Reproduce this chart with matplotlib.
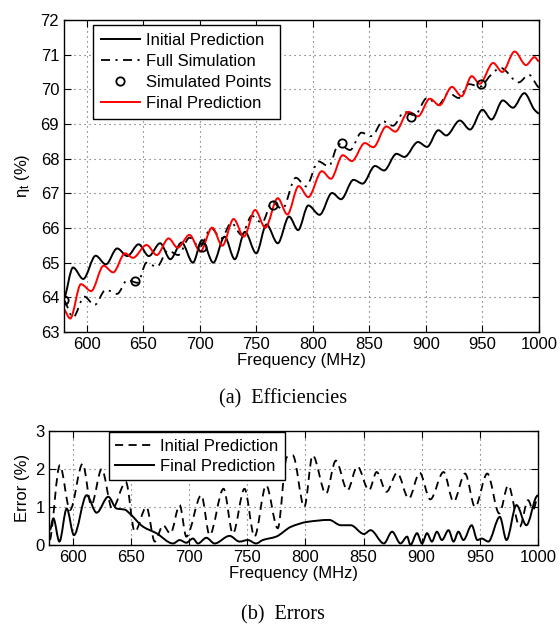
import numpy as np
import matplotlib
matplotlib.use('Agg')
import matplotlib.pyplot as plt
from matplotlib.path import Path
from matplotlib.patches import PathPatch
from matplotlib.lines import Line2D

plt.rcParams['font.family'] = ['Liberation Sans', 'DejaVu Sans']
plt.rcParams['mathtext.fontset'] = 'custom'
plt.rcParams['mathtext.rm'] = 'Liberation Sans'
plt.rcParams['mathtext.it'] = 'Liberation Sans'

# Efficiency curves: turning points (MHz, %)
initF = [580, 588, 597, 608, 617, 627, 636, 646, 655, 665, 674, 684, 694,
         702, 712, 722, 731, 740, 750, 759, 769, 779, 787, 796, 806, 817,
         825, 836, 844, 855, 863, 874, 881, 893, 901, 911, 918, 930, 939,
         950, 958, 968, 977, 987, 996, 1000]
initEff = [63.95, 64.86, 64.53, 65.20, 64.95, 65.41, 65.19, 65.53, 65.19,
           65.56, 65.10, 65.58, 65.00, 65.65, 65.00, 65.75, 65.10, 65.89,
           65.27, 66.10, 65.56, 66.33, 65.94, 66.65, 66.38, 67.01, 66.83,
           67.39, 67.28, 67.79, 67.66, 68.14, 68.05, 68.48, 68.34, 68.82,
           68.67, 69.10, 68.84, 69.41, 69.13, 69.68, 69.47, 69.89, 69.41,
           69.30]

fullF = [580, 588, 598, 607, 617, 627, 636, 645, 653, 662, 672, 681, 691,
         700, 710, 719, 728, 737, 746, 755, 764, 773, 785, 794, 805, 814,
         823, 833, 843, 852, 862, 871, 881, 890, 901, 911, 920, 929, 938,
         948, 957, 966, 982, 991, 1000]
fullEff = [63.92, 63.42, 64.02, 63.78, 64.22, 64.10, 64.50, 64.42, 65.00,
           64.88, 65.35, 65.22, 65.72, 65.45, 66.00, 65.70, 66.15, 65.80,
           66.35, 66.15, 66.75, 66.55, 67.45, 67.20, 67.92, 67.78, 68.42,
           68.25, 68.75, 68.65, 69.08, 68.95, 69.35, 69.25, 69.75, 69.55,
           69.90, 69.75, 70.15, 70.08, 70.40, 70.62, 70.20, 70.42, 70.05]

simF = [580, 643, 702, 765, 826, 887, 949]
simEff = [63.92, 64.47, 65.45, 66.66, 68.45, 69.20, 70.14]

finalF = [580, 585.5, 595, 604, 615, 623.5, 634, 641, 653, 662, 672.5,
          680.5, 691, 700.5, 711, 720, 730, 739, 749, 758, 769, 777.5,
          787.5, 796, 808, 816, 826.5, 834.5, 846, 853.5, 865, 873, 884.5,
          893, 903.5, 912, 923, 931.5, 940.5, 947.5, 959.5, 967.5, 978.5,
          988.5, 996, 1000]
finalEff = [63.65, 63.39, 64.38, 64.18, 64.91, 64.72, 65.27, 65.14, 65.51,
            65.22, 65.70, 65.43, 65.80, 65.32, 66.01, 65.49, 66.26, 65.75,
            66.52, 66.01, 66.86, 66.39, 67.21, 66.89, 67.64, 67.42, 68.10,
            67.93, 68.45, 68.33, 68.93, 68.78, 69.35, 69.22, 69.73, 69.54,
            70.07, 69.80, 70.38, 70.16, 70.76, 70.50, 71.09, 70.70, 70.93,
            70.80]

# Error curves (%)
errInitF = [580.6, 589, 597.7, 608.6, 616, 625, 634, 645.7, 653.4, 663.4,
            670.6, 677.7, 684, 692, 697.7, 710.6, 717.7, 729.7, 737.7,
            747.7, 756.3, 766.3, 776.3, 784, 789.2, 799.1, 806.3, 817.7,
            826.2, 836.2, 844.7, 854.7, 861.3, 869.8, 878.9, 888.9, 898.3,
            907.4, 918.8, 927.4, 937.3, 945.9, 956.4, 966.7, 974.4, 984.3,
            991.5, 995.7, 1000]
errInit = [0.13, 2.10, 0.92, 2.14, 1.05, 2.00, 0.95, 1.66, 0.35, 1.00,
           0.09, 0.52, 0.30, 1.05, 0.22, 1.31, 0.26, 1.48, 0.30, 1.48,
           0.22, 1.57, 0.44, 2.31, 2.36, 1.00, 2.36, 1.35, 2.22, 1.44,
           2.07, 1.44, 1.92, 1.40, 1.90, 1.22, 1.90, 1.20, 1.92, 1.14,
           1.88, 1.00, 1.88, 0.83, 1.57, 0.48, 1.18, 0.92, 1.31]

errFinalF = [580.6, 583.4, 588.6, 594.9, 601.1, 612, 620.6, 630.6, 637.7,
             644.9, 649, 660.6, 672, 686.3, 692, 697.7, 703.4, 707.7,
             714.9, 722, 734.9, 743.4, 750.6, 757.7, 763.4, 774.9, 787.7,
             802, 820.5, 830.5, 839, 850.4, 856.1, 867.5, 874.6, 881.8,
             887.5, 890.3, 896, 900.3, 904.6, 908.8, 913.1, 917.4, 923.1,
             927.4, 931.6, 935.9, 943, 947.9, 951.6, 957.3, 967.2, 972.9,
             981.5, 990, 998.6, 1000]
errFinal = [0.39, 0.70, 0.09, 0.96, 0.26, 1.31, 0.85, 1.27, 0.96, 0.93,
            0.83, 0.48, 0.31, 0.04, 0.13, 0.06, 0.17, 0.04, 0.19, 0.04,
            0.24, 0.09, 0.13, 0.04, 0.13, 0.22, 0.48, 0.61, 0.66, 0.52,
            0.52, 0.29, 0.39, 0.04, 0.35, 0.04, 0.22, 0.00, 0.31, 0.04,
            0.31, 0.09, 0.35, 0.13, 0.39, 0.09, 0.35, 0.13, 0.52, 0.13,
            0.17, 0.09, 0.74, 0.13, 1.05, 0.52, 1.27, 1.31]

effTicks = list(range(63, 73))
errTicks = [0, 1, 2, 3]
freqTicks = list(range(600, 1001, 50))


def smoothPath(xs, ys):
    # cubic Bezier through the read points, monotone (pchip-like) tangents
    xs = np.asarray(xs, float)
    ys = np.asarray(ys, float)
    h = np.diff(xs)
    d = np.diff(ys) / h
    m = np.zeros_like(xs)
    for i in range(1, len(xs) - 1):
        if d[i - 1] * d[i] > 0:
            m[i] = 2 / (1 / d[i - 1] + 1 / d[i])
    m[0] = d[0] * 0.5
    m[-1] = d[-1] * 0.5
    verts = [(xs[0], ys[0])]
    codes = [Path.MOVETO]
    for i in range(len(xs) - 1):
        k = h[i] / 3
        verts += [(xs[i] + k, ys[i] + m[i] * k),
                  (xs[i + 1] - k, ys[i + 1] - m[i + 1] * k),
                  (xs[i + 1], ys[i + 1])]
        codes += [Path.CURVE4] * 3
    return Path(verts, codes)


def drawCurve(ax, xs, ys, **kw):
    ax.add_patch(PathPatch(smoothPath(xs, ys), fill=False, **kw))


def styleAxes(ax):
    ax.set_xlim(580, 1000)
    ax.set_xticks(freqTicks)
    ax.tick_params(direction='in', top=True, right=True, length=5,
                   width=0.8, labelsize=12, pad=3.5)
    ax.grid(True, linestyle=(0, (1, 3.5)), color='0.35', linewidth=0.8)
    ax.set_axisbelow(True)
    for s in ax.spines.values():
        s.set_linewidth(1.0)
    ax.set_xlabel('Frequency (MHz)', fontsize=12, labelpad=1)


fig = plt.figure(figsize=(5.6, 6.24), dpi=100)

dashDot = (0, (5, 3, 1.2, 3))
dashed = (0, (4.5, 3))

# (a) efficiencies
ax1 = fig.add_axes([64 / 560, 1 - 332 / 624, 475 / 560, 312 / 624])
styleAxes(ax1)
ax1.set_ylim(63, 72)
ax1.set_yticks(effTicks)
drawCurve(ax1, initF, initEff, color='black', lw=1.4)
drawCurve(ax1, fullF, fullEff, color='black', lw=1.3, linestyle=dashDot)
ax1.plot(simF, simEff, 'o', mfc='none', mec='black', ms=6, mew=1.3)
drawCurve(ax1, finalF, finalEff, color='red', lw=1.4)
ax1.set_ylabel(r'$\eta_t$ (%)', fontsize=12, labelpad=6)

h1 = [Line2D([], [], color='black', lw=1.4),
      Line2D([], [], color='black', lw=1.3, linestyle=dashDot),
      Line2D([], [], ls='none', marker='o', mfc='none', mec='black',
             ms=6, mew=1.3),
      Line2D([], [], color='red', lw=1.4)]
leg1 = ax1.legend(h1, ['Initial Prediction', 'Full Simulation',
                       'Simulated Points', 'Final Prediction'],
                  loc='upper left', bbox_to_anchor=(0.061, 0.984),
                  borderaxespad=0, fontsize=12, fancybox=False,
                  framealpha=1, edgecolor='black', handlelength=2.3,
                  labelspacing=0.35, handletextpad=0.4, borderpad=0.5)
leg1.get_frame().set_linewidth(1.0)

fig.text(0.506, 1 - 399 / 624, '(a)  Efficiencies', ha='center',
         va='center', family='Liberation Serif', fontsize=14.5)

# (b) errors
ax2 = fig.add_axes([49.4 / 560, 1 - 545 / 624, 488.6 / 560, 114 / 624])
styleAxes(ax2)
ax2.set_ylim(0, 3)
ax2.set_yticks(errTicks)
drawCurve(ax2, errInitF, errInit, color='black', lw=1.3, linestyle=dashed)
drawCurve(ax2, errFinalF, errFinal, color='black', lw=1.4)
ax2.set_ylabel('Error (%)', fontsize=12, labelpad=4)

h2 = [Line2D([], [], color='black', lw=1.3, linestyle=dashed),
      Line2D([], [], color='black', lw=1.4)]
leg2 = ax2.legend(h2, ['Initial Prediction', 'Final Prediction'],
                  loc='upper left', bbox_to_anchor=(0.121, 0.99),
                  borderaxespad=0, fontsize=12, fancybox=False,
                  framealpha=1, edgecolor='black', handlelength=2.3,
                  labelspacing=0.3, handletextpad=0.4, borderpad=0.4)
leg2.get_frame().set_linewidth(1.0)

fig.text(0.506, 1 - 615 / 624, '(b)  Errors', ha='center', va='center',
         family='Liberation Serif', fontsize=14.5)

fig.savefig('out.png', dpi=100)
